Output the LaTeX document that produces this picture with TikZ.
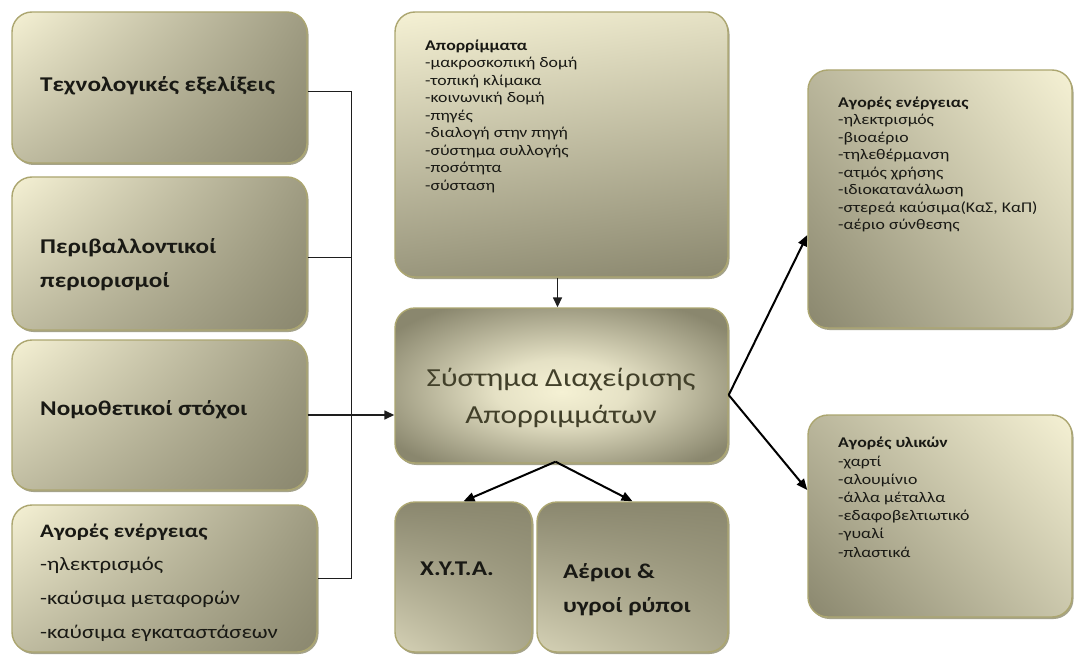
\documentclass[tikz,border=0pt]{standalone}
\usepackage{fontspec}
\setmainfont{Carlito}[FakeStretch=1.2]
\usetikzlibrary{arrows.meta,shadows,shadings}
\definecolor{cream}{RGB}{245,241,212}
\definecolor{olive}{RGB}{138,135,110}
\definecolor{edge}{RGB}{172,166,112}
\definecolor{shadowc}{RGB}{150,147,118}
\definecolor{ink}{RGB}{25,25,20}
\definecolor{sysink}{RGB}{66,64,42}
\definecolor{wirec}{RGB}{30,30,30}
\pgfdeclareradialshading{sysglow}{\pgfpoint{0bp}{-2bp}}{%
  color(0bp)=(cream); color(10bp)=(cream!85!olive); color(31bp)=(olive); color(50bp)=(olive)}
\begin{document}
\begin{tikzpicture}[x=1pt,y=-1pt,
  box/.style={rounded corners=20pt, draw=edge, line width=1.4pt, inner sep=0pt,
    drop shadow={shadow xshift=1.5pt, shadow yshift=-2pt, fill=shadowc, opacity=0.85}},
  leftbox/.style={box, upper left=cream, lower right=olive,
    upper right=olive!80!cream, lower left=olive!50!cream},
  topbox/.style={box, upper left=cream, upper right=cream!85!olive,
    lower left=olive!85!cream, lower right=olive},
  rightbox/.style={box, upper right=cream, lower left=olive,
    upper left=olive!55!cream, lower right=olive!40!cream},
  lowbox/.style={box, upper left=olive, upper right=olive,
    lower left=cream!70!olive, lower right=olive!70!cream},
  sysbox/.style={box, shading=sysglow},
  big/.style={inner sep=0pt, text=ink, font=\fontsize{19}{33.7}\selectfont},
  bigbold/.style={inner sep=0pt, text=ink, font=\fontsize{21}{34}\selectfont\bfseries},
  small/.style={inner sep=0pt, text=ink, anchor=north west, align=left,
    font=\fontsize{14.8}{17.5}\selectfont},
  wire/.style={draw=wirec, line width=1pt},
  arr/.style={draw=wirec, line width=1.5pt, -{Triangle[length=10pt,width=9pt]}},
  arrthick/.style={draw=black, line width=2pt, -{Triangle[length=11pt,width=9pt]}}
]
\useasboundingbox (0,0) rectangle (1075,655);
\fill[white] (0,0) rectangle (1075,655);

% left column of influences
\node[leftbox, minimum width=295pt, minimum height=151pt] (t1) at (159.5,87.5) {};
\node[leftbox, minimum width=295pt, minimum height=153pt] (t2) at (159.5,253.5) {};
\node[leftbox, minimum width=295pt, minimum height=150pt] (t3) at (159.5,415) {};
\node[leftbox, minimum width=305pt, minimum height=147pt] (t4) at (164.5,578.5) {};

% waste inputs, central system, outputs
\node[topbox, minimum width=333pt, minimum height=265pt] (src) at (561.5,144.5) {};
\node[sysbox, minimum width=333pt, minimum height=155pt] (sys) at (561.5,385.5) {};
\node[lowbox, minimum width=137pt, minimum height=150pt] (xyta) at (463.5,577) {};
\node[lowbox, minimum width=191pt, minimum height=150pt] (gas) at (632.5,577) {};

% markets on the right
\node[rightbox, minimum width=264pt, minimum height=258pt] (en) at (940,199) {};
\node[rightbox, minimum width=264pt, minimum height=202pt] (mat) at (940,516) {};

% texts
\node[bigbold, anchor=base west] (t1txt) at (40,92) {Τεχνολογικές εξελίξεις};
\node[bigbold, anchor=north west, align=left] (t2txt) at (40,229.2)
  {\strut Περιβαλλοντικοί\\\strut περιορισμοί};
\node[bigbold, anchor=base west] (t3txt) at (40,415) {Νομοθετικοί στόχοι};
\node[big, anchor=north west, align=left] (t4txt) at (40,513.4)
  {\strut\textbf{Αγορές ενέργειας}\\\strut -ηλεκτρισμός\\\strut -καύσιμα μεταφορών\\\strut -καύσιμα εγκαταστάσεων};

\node[small] (srctxt) at (425,37.9)
  {\strut\textbf{Απορρίμματα}\\\strut -μακροσκοπική δομή\\\strut -τοπική κλίμακα\\\strut -κοινωνική δομή\\\strut -πηγές\\\strut -διαλογή στην πηγή\\\strut -σύστημα συλλογής\\\strut -ποσότητα\\\strut -σύσταση};

\node[inner sep=0pt, anchor=north, align=center, text=sysink,
  font=\fontsize{26}{36.5}\selectfont] (systxt) at (561,361.1)
  {\strut Σύστημα Διαχείρισης\\\strut Απορριμμάτων};

\node[bigbold, anchor=base west] (xytatxt) at (420,575) {Χ.Υ.Τ.Α.};
\node[bigbold, anchor=north west, align=left] (gastxt) at (563,554.2)
  {\strut Αέριοι \&\\\strut υγροί ρύποι};

\node[small] (entxt) at (838,94.9)
  {\strut\textbf{Αγορές ενέργειας}\\\strut -ηλεκτρισμός\\\strut -βιοαέριο\\\strut -τηλεθέρμανση\\\strut -ατμός χρήσης\\\strut -ιδιοκατανάλωση\\\strut -στερεά καύσιμα(ΚαΣ, ΚαΠ)\\\strut -αέριο σύνθεσης};
\node[small, font=\fontsize{14.8}{18.2}\selectfont] (mattxt) at (838,434.9)
  {\strut\textbf{Αγορές υλικών}\\\strut -χαρτί\\\strut -αλουμίνιο\\\strut -άλλα μέταλλα\\\strut -εδαφοβελτιωτικό\\\strut -γυαλί\\\strut -πλαστικά};

% connectors
\coordinate (bus) at (351,415);
\draw[wire] ([yshift=-4.5pt]t1.east) -- ([yshift=-4.5pt]t1.east -| bus) -- (t4.east -| bus) -- (t4.east);
\draw[wire] ([yshift=-3.5pt]t2.east) -- ([yshift=-3.5pt]t2.east -| bus);
\draw[arr] (t3.east) -- (t3.east -| sys.west);
\draw[arr] ([xshift=-4pt]src.south) -- ([xshift=-4pt]sys.north);
\draw[arrthick] ([yshift=-9.5pt]sys.east) -- ([yshift=-36pt]en.west);
\draw[arrthick] ([yshift=-9.5pt]sys.east) -- ([yshift=26pt]mat.west);
\draw[arrthick] ([xshift=-6pt,yshift=2pt]sys.south) -- (xyta.north);
\draw[arrthick] ([xshift=-6pt,yshift=2pt]sys.south) -- (gas.north);
\end{tikzpicture}
\end{document}
